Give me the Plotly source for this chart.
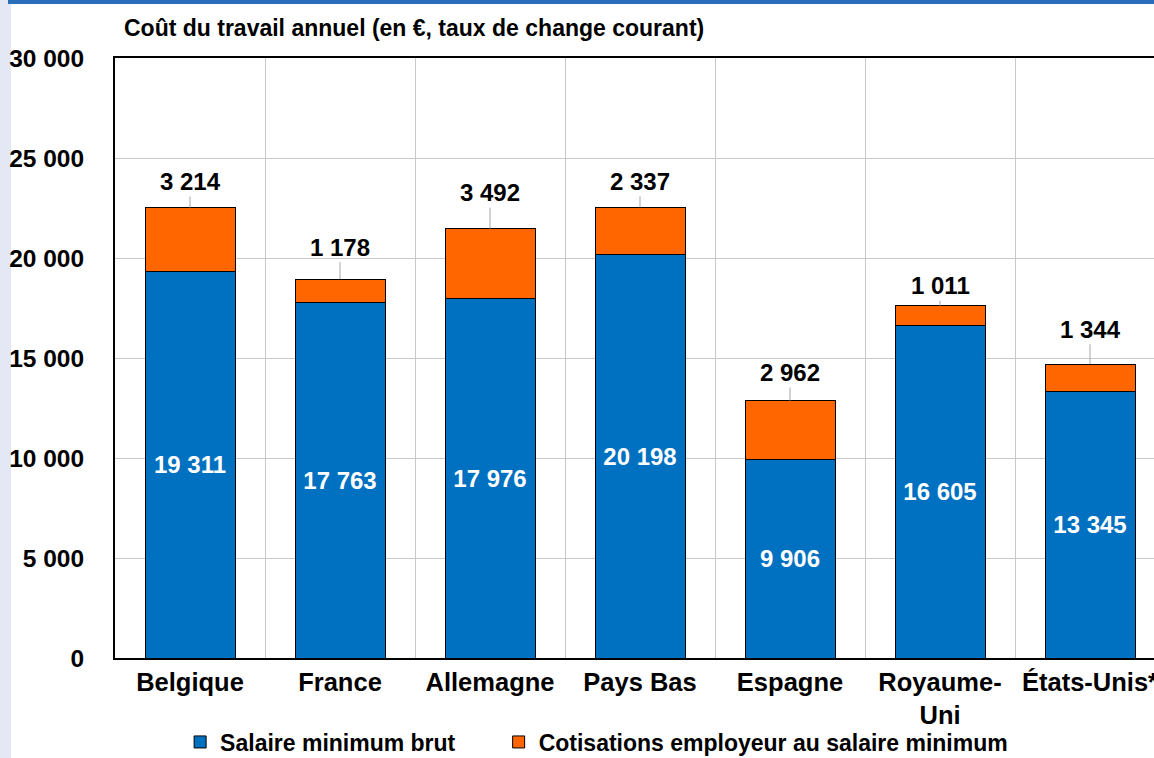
import plotly.graph_objects as go

countries = ["Belgique", "France", "Allemagne", "Pays Bas", "Espagne", "Royaume-<br>Uni", "États-Unis*"]
salaire_brut = [19311, 17763, 17976, 20198, 9906, 16605, 13345]
cotisations = [3214, 1178, 3492, 2337, 2962, 1011, 1344]
y_ticks = [0, 5000, 10000, 15000, 20000, 25000, 30000]

# style: vertical pixel offset of the contribution labels above the bar tops
label_offsets_px = [-26, -32, -36, -26, -28, -20, -35]

FONT = "Liberation Sans, Arial, sans-serif"
BLUE = "#0070C0"
ORANGE = "#FF6600"

W, H = 1154, 758
ML, MT, MB = 115, 58, 100
PW, PH = W - ML, H - MT - MB


def fmt(v):
    return f"{v:,}".replace(",", " ")


fig = go.Figure()
fig.add_trace(go.Bar(
    x=countries, y=salaire_brut, name="Salaire minimum brut" + "\u00a0" * 6,
    marker=dict(color=BLUE, line=dict(color="black", width=1)),
    text=[fmt(v) for v in salaire_brut], textposition="inside",
    insidetextanchor="middle",
    textfont=dict(color="white", size=24, family=FONT, weight="bold"),
    width=0.6,
))
fig.add_trace(go.Bar(
    x=countries, y=cotisations, name="Cotisations employeur au salaire minimum",
    marker=dict(color=ORANGE, line=dict(color="black", width=1)),
    width=0.6,
))

for c, b, o, off in zip(countries, salaire_brut, cotisations, label_offsets_px):
    fig.add_annotation(
        x=c, y=b + o, text=fmt(o), showarrow=True, arrowhead=0,
        arrowcolor="#A6A6A6", arrowwidth=1, ax=0, ay=off,
        font=dict(size=24, color="black", family=FONT, weight="bold"),
    )

fig.add_annotation(
    xref="paper", yref="paper", x=(122 - ML) / PW, y=1 + 30 / PH,
    xanchor="left", yanchor="middle", showarrow=False,
    text="Coût du travail annuel (en €, taux de change courant)",
    font=dict(size=23, color="black", family=FONT, weight="bold"),
)

# decorative frame strips (top blue band, left lavender band)
fig.add_shape(type="rect", xref="paper", yref="paper",
              x0=-ML / PW, x1=(11 - ML) / PW, y0=-(MB + 2) / PH, y1=1 + (MT + 2) / PH,
              fillcolor="#E4E8F4", line_width=0, layer="below")
fig.add_shape(type="rect", xref="paper", yref="paper",
              x0=(8 - ML) / PW, x1=1.01, y0=1 + (MT - 4) / PH, y1=1 + (MT + 2) / PH,
              fillcolor="#2A6EBB", line_width=0, layer="above")

fig.update_layout(
    barmode="stack",
    width=W, height=H,
    margin=dict(l=ML, r=0, t=MT, b=MB, pad=0, autoexpand=False),
    paper_bgcolor="white", plot_bgcolor="white",
    separators=", ",
    font=dict(family=FONT, color="black"),
    showlegend=True,
    legend=dict(
        orientation="h", xref="container", yref="container",
        x=0.517, xanchor="center", y=(H - 742) / H, yanchor="middle",
        font=dict(size=23, family=FONT, weight="bold"),
        traceorder="normal", itemwidth=30, bgcolor="rgba(0,0,0,0)",
    ),
    xaxis=dict(
        type="category", tickson="boundaries", automargin=False,
        range=[-0.5, 6.5 - 11 / 150],
        showgrid=True, gridcolor="#C8C8C8", gridwidth=1,
        showline=True, linecolor="black", linewidth=2, mirror=True,
        ticks="", tickfont=dict(size=25.5, family=FONT, weight="bold"),
    ),
    yaxis=dict(
        range=[0, 30000], tickvals=y_ticks, automargin=False,
        ticktext=[fmt(v) for v in y_ticks],
        showgrid=True, gridcolor="#C8C8C8", gridwidth=1,
        showline=True, linecolor="black", linewidth=2,
        ticks="", ticklabelstandoff=24,
        tickfont=dict(size=24.5, family=FONT, weight="bold"),
        zeroline=False,
    ),
)

fig.write_html(
    "out.html",
    config={"displayModeBar": False},
    post_script="document.body.style.margin='0';document.body.style.overflow='hidden';",
)
